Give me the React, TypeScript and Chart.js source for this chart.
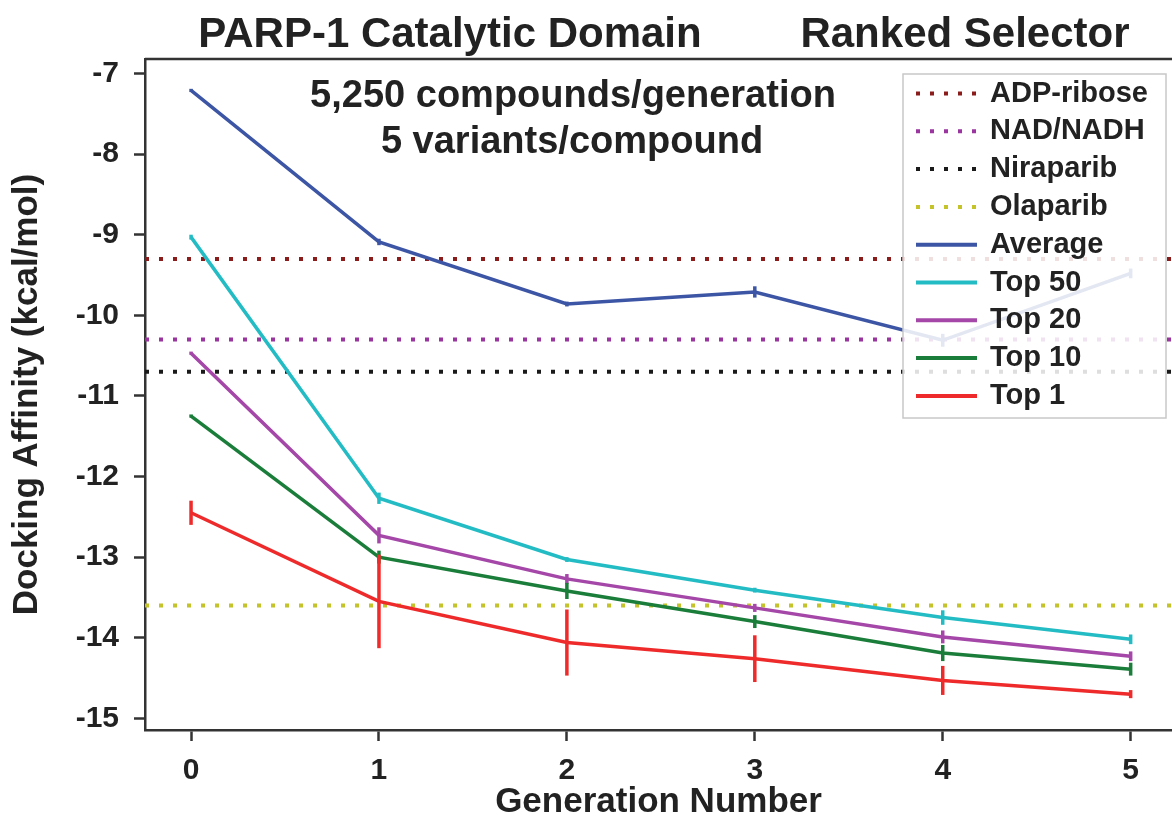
import React, { useEffect, useRef } from "react";
import { Chart, registerables } from "chart.js";

Chart.register(...registerables);

const FONT = "'Liberation Sans', Arial, Helvetica, sans-serif";

// ---------- data ----------
const GENERATIONS = [0, 1, 2, 3, 4, 5];
const X_TICKS = [0, 1, 2, 3, 4, 5];
const Y_TICKS = [-15, -14, -13, -12, -11, -10, -9, -8, -7];
const X_MIN = -0.245;
const X_MAX = 5.22;
const Y_MIN = -15.145;
const Y_MAX = -6.82;

const AVERAGE = [-7.21, -9.09, -9.86, -9.71, -10.31, -9.48];
const AVERAGE_ERR = [0.02, 0.04, 0.03, 0.07, 0.08, 0.06];
const TOP50 = [-9.03, -12.27, -13.03, -13.41, -13.75, -14.02];
const TOP50_ERR = [0.03, 0.07, 0.03, 0.03, 0.09, 0.06];
const TOP20 = [-10.47, -12.73, -13.27, -13.63, -13.99, -14.23];
const TOP20_ERR = [0.02, 0.1, 0.06, 0.05, 0.08, 0.06];
const TOP10 = [-11.25, -13.0, -13.42, -13.8, -14.19, -14.39];
const TOP10_ERR = [0.02, 0.08, 0.1, 0.08, 0.1, 0.08];
const TOP1 = [-12.45, -13.55, -14.06, -14.26, -14.53, -14.7];
const TOP1_ERR = [0.15, 0.58, 0.41, 0.29, 0.18, 0.05];

const REF_LABELS = ["ADP-ribose", "NAD/NADH", "Niraparib", "Olaparib"];
const REF_VALUES = [-9.3, -10.3, -10.7, -13.6];
const REF_COLORS = ["#8b1c1c", "#9a35a0", "#1a1a1a", "#c4c42a"];

const SERIES_LABELS = ["Average", "Top 50", "Top 20", "Top 10", "Top 1"];
const SERIES_VALUES = [AVERAGE, TOP50, TOP20, TOP10, TOP1];
const SERIES_ERRORS = [AVERAGE_ERR, TOP50_ERR, TOP20_ERR, TOP10_ERR, TOP1_ERR];
const SERIES_COLORS = ["#3c55a5", "#24bcc4", "#a447a8", "#1b7d3a", "#ee2a2a"];

const TITLE_LEFT = "PARP-1 Catalytic Domain";
const TITLE_RIGHT = "Ranked Selector";
const NOTE_LINES = ["5,250 compounds/generation", "5 variants/compound"];
const X_TITLE = "Generation Number";
const Y_TITLE = "Docking Affinity (kcal/mol)";

const DOT_DASH = [4, 10];

// ---------- plugins ----------
const errorBarPlugin = {
  id: "errorBars",
  afterDatasetDraw(chart: any, args: any) {
    const ds = chart.data.datasets[args.index];
    const errs = ds.errors;
    if (!errs) return;
    const ctx = chart.ctx;
    const ys = chart.scales.y;
    const area = chart.chartArea;
    ctx.save();
    ctx.beginPath();
    ctx.rect(area.left, area.top, area.right - area.left, area.bottom - area.top);
    ctx.clip();
    ctx.strokeStyle = ds.borderColor;
    ctx.lineWidth = 3.5;
    args.meta.data.forEach((pt: any, i: number) => {
      const v = ds.data[i].y;
      const e = errs[i];
      ctx.beginPath();
      ctx.moveTo(pt.x, ys.getPixelForValue(v + e));
      ctx.lineTo(pt.x, ys.getPixelForValue(v - e));
      ctx.stroke();
    });
    ctx.restore();
  },
};

const decorPlugin = {
  id: "decor",
  afterDraw(chart: any) {
    const ctx = chart.ctx;
    const area = chart.chartArea;
    ctx.save();
    // top frame line
    ctx.strokeStyle = "#333";
    ctx.lineWidth = 2.5;
    ctx.beginPath();
    ctx.moveTo(area.left, area.top);
    ctx.lineTo(area.right, area.top);
    ctx.stroke();

    // titles
    ctx.fillStyle = "#222";
    ctx.textAlign = "center";
    ctx.textBaseline = "alphabetic";
    ctx.font = `bold 42px ${FONT}`;
    ctx.fillText(TITLE_LEFT, 450, 47);
    ctx.fillText(TITLE_RIGHT, 965, 47);

    // notes
    ctx.font = `bold 38px ${FONT}`;
    ctx.fillText(NOTE_LINES[0], 573, 107);
    ctx.fillText(NOTE_LINES[1], 572, 153);

    // legend
    const lx = 903, ly = 74, lw = 263, lh = 344;
    ctx.fillStyle = "rgba(255,255,255,0.86)";
    ctx.fillRect(lx, ly, lw, lh);
    ctx.strokeStyle = "#c8c8c8";
    ctx.lineWidth = 1.5;
    ctx.strokeRect(lx, ly, lw, lh);
    ctx.font = `bold 29px ${FONT}`;
    ctx.textAlign = "left";
    ctx.textBaseline = "middle";
    chart.data.datasets.forEach((ds: any, i: number) => {
      const y = 93.5 + i * 37.8;
      ctx.strokeStyle = ds.borderColor;
      ctx.lineWidth = ds.borderDash && ds.borderDash.length ? 4 : 4;
      ctx.setLineDash(ds.borderDash || []);
      ctx.beginPath();
      ctx.moveTo(916, y);
      ctx.lineTo(977, y);
      ctx.stroke();
      ctx.setLineDash([]);
      ctx.fillStyle = "#222";
      ctx.fillText(ds.label, 990, y);
    });
    ctx.restore();
  },
};

export default function App() {
  const ref = useRef<HTMLCanvasElement | null>(null);

  useEffect(() => {
    if (!ref.current) return;

    const refSets = REF_LABELS.map((label, i) => ({
      label,
      data: [
        { x: X_MIN, y: REF_VALUES[i] },
        { x: X_MAX, y: REF_VALUES[i] },
      ],
      borderColor: REF_COLORS[i],
      backgroundColor: REF_COLORS[i],
      borderWidth: 4,
      borderDash: DOT_DASH,
      pointRadius: 0,
      order: 20 + i,
    }));

    const seriesSets = SERIES_LABELS.map((label, i) => ({
      label,
      data: GENERATIONS.map((g, j) => ({ x: g, y: SERIES_VALUES[i][j] })),
      errors: SERIES_ERRORS[i],
      borderColor: SERIES_COLORS[i],
      backgroundColor: SERIES_COLORS[i],
      borderWidth: 3.5,
      pointRadius: 0,
      tension: 0,
      order: 10 - i,
    }));

    const axisColor = "#333";
    const chart = new Chart(ref.current, {
      type: "line",
      data: { datasets: [...refSets, ...seriesSets] as any },
      options: {
        animation: false,
        responsive: false,
        maintainAspectRatio: false,
        layout: { padding: { top: 59, left: 0, right: 0, bottom: 0 } },
        plugins: {
          legend: { display: false },
          tooltip: { enabled: false },
        },
        scales: {
          x: {
            type: "linear",
            min: X_MIN,
            max: X_MAX,
            afterBuildTicks: (s: any) => {
              s.ticks = X_TICKS.map((v) => ({ value: v }));
            },
            afterFit: (s: any) => {
              s.height = 90;
            },
            grid: {
              drawOnChartArea: false,
              drawTicks: true,
              tickLength: 11,
              tickWidth: 2.5,
              tickColor: axisColor,
            },
            border: { display: true, color: axisColor, width: 2.5 },
            ticks: {
              color: "#222",
              font: { family: FONT, size: 30, weight: "bold" },
              padding: 12,
              maxRotation: 0,
            },
            title: {
              display: true,
              text: X_TITLE,
              color: "#222",
              font: { family: FONT, size: 35, weight: "bold", lineHeight: 1 },
              padding: { top: 0, bottom: 0 },
            },
          },
          y: {
            type: "linear",
            min: Y_MIN,
            max: Y_MAX,
            afterBuildTicks: (s: any) => {
              s.ticks = Y_TICKS.map((v) => ({ value: v }));
            },
            afterFit: (s: any) => {
              s.width = 145;
            },
            grid: {
              drawOnChartArea: false,
              drawTicks: true,
              tickLength: 11,
              tickWidth: 2.5,
              tickColor: axisColor,
            },
            border: { display: true, color: axisColor, width: 2.5 },
            ticks: {
              color: "#222",
              font: { family: FONT, size: 30, weight: "bold" },
              padding: 15,
            },
            title: {
              display: true,
              text: Y_TITLE,
              color: "#222",
              font: { family: FONT, size: 35, weight: "bold", lineHeight: 1 },
              padding: { top: 10, bottom: 0 },
            },
          },
        },
      },
      plugins: [errorBarPlugin, decorPlugin],
    } as any);

    return () => chart.destroy();
  }, []);

  return (
    <div
      style={{
        position: "absolute",
        left: 0,
        top: 0,
        width: 1172,
        height: 820,
        background: "#fff",
      }}
    >
      <canvas ref={ref} width={1172} height={820} style={{ display: "block" }} />
    </div>
  );
}
